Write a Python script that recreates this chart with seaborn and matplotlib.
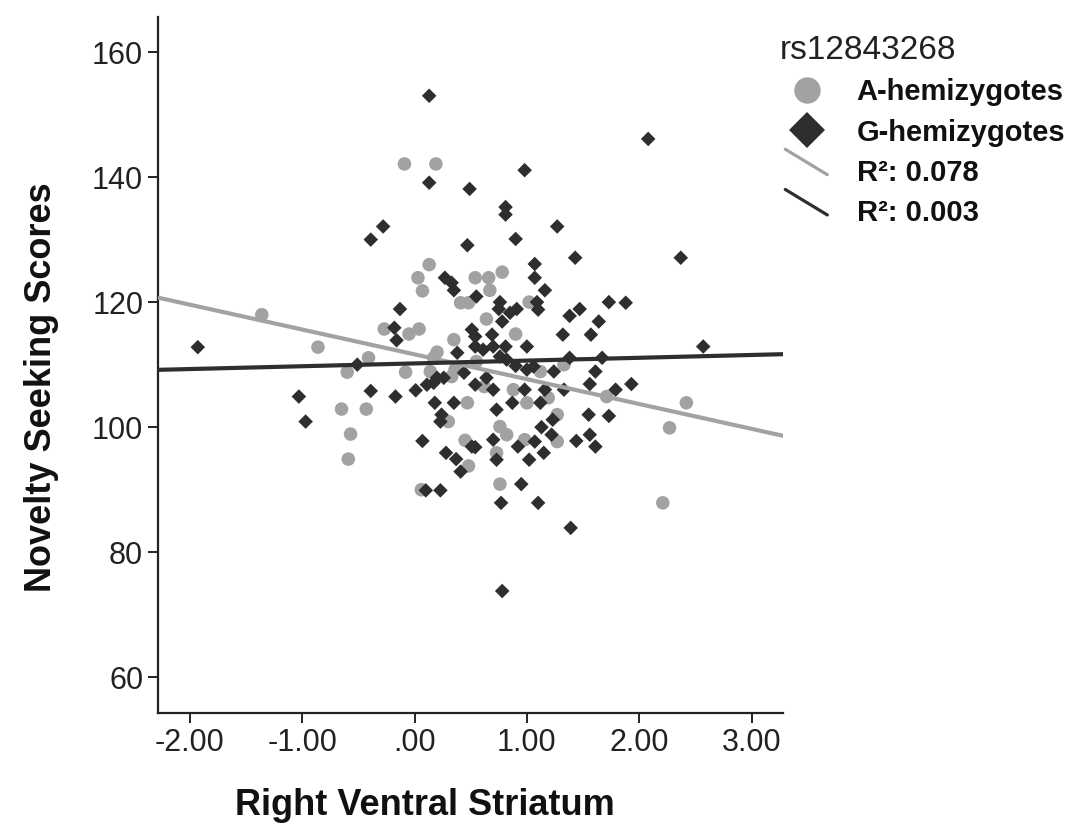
import matplotlib
matplotlib.use("Agg")
import numpy as np
import pandas as pd
import seaborn as sns
import matplotlib.pyplot as plt
from matplotlib.lines import Line2D
from matplotlib.legend_handler import HandlerBase

# ---------------- data ----------------
groups = ["A-hemizygotes", "G-hemizygotes"]

a_x = [-1.36, -0.86, -0.60, -0.41, -0.65, -0.43, -0.57, -0.59, -0.27, -0.05,
       0.04, -0.08, 0.13, 0.03, 0.07, 0.54, 0.41, 0.48, 0.35, 0.17,
       0.14, 0.33, 0.36, 0.47, 0.30, 0.45, 0.48, -0.09, 0.19, 0.66,
       0.67, 0.78, 1.02, 0.64, 0.90, 0.88, 1.12, 1.33, 1.71, 2.42,
       2.27, 2.21, 1.00, 1.19, 0.76, 0.82, 1.27, 1.27, 0.73, 0.98,
       0.06, 0.76, 0.55, 0.62, 0.20]
a_y = [118.0, 112.8, 108.8, 111.1, 102.9, 102.9, 98.9, 94.9, 115.7, 114.9,
       115.7, 108.8, 126.0, 123.9, 121.8, 123.9, 119.9, 119.9, 114.0, 111.1,
       108.9, 108.1, 109.2, 103.9, 100.9, 97.9, 93.8, 142.1, 142.1, 123.9,
       121.9, 124.8, 120.0, 117.3, 114.9, 106.0, 108.9, 110.0, 104.9, 103.9,
       99.9, 87.9, 103.9, 104.7, 100.1, 98.8, 102.0, 97.7, 95.9, 98.0,
       90.0, 90.9, 110.5, 106.5, 112.0]

g_x = [-1.93, -1.03, -0.97, -0.51, -0.39, -0.17, -0.13, -0.18, -0.16, 0.01,
       0.07, 0.10, 0.23, 0.27, 0.33, 0.35, 0.55, 0.51, 0.54, 0.54,
       0.38, 0.20, 0.26, 0.17, 0.11, 0.44, 0.54, 0.18, 0.35, 0.24,
       0.23, 0.51, 0.54, 0.28, 0.37, 0.41, 0.13, 0.13, 0.49, 0.98,
       2.08, 0.81, 0.81, -0.28, -0.39, 1.27, 0.47, 0.90, 1.43, 2.37,
       1.07, 1.07, 1.16, 0.76, 0.75, 0.85, 0.91, 1.09, 1.10, 1.73,
       1.88, 1.38, 1.47, 1.64, 1.57, 1.32, 0.78, 0.69, 1.00, 0.61,
       0.70, 0.81, 0.76, 0.82, 2.57, 1.38, 1.67, 0.64, 0.70, 1.00,
       1.06, 0.98, 1.24, 1.33, 1.16, 1.61, 1.56, 1.79, 1.93, 0.73,
       0.87, 1.12, 1.13, 1.23, 1.22, 1.55, 1.73, 1.44, 1.56, 1.61,
       0.70, 0.73, 0.92, 1.07, 1.02, 1.15, 0.95, 0.77, 1.10, 1.39,
       0.78, 0.90]
g_y = [112.8, 104.9, 100.9, 110.0, 105.8, 104.9, 118.9, 115.9, 113.9, 105.9,
       97.8, 89.9, 89.9, 123.9, 123.1, 121.9, 120.9, 115.6, 114.5, 112.9,
       111.9, 107.9, 107.9, 107.1, 106.8, 108.7, 106.8, 103.9, 103.9, 102.0,
       100.9, 96.9, 96.8, 95.9, 94.9, 92.9, 153.0, 139.1, 138.1, 141.1,
       146.1, 135.2, 134.0, 132.1, 130.0, 132.1, 129.1, 130.1, 127.1, 127.1,
       126.1, 123.9, 121.9, 120.0, 118.9, 118.3, 118.9, 120.0, 118.8, 120.0,
       119.9, 117.8, 118.9, 116.9, 114.8, 114.8, 116.9, 114.8, 112.9, 112.4,
       112.9, 112.9, 111.3, 110.8, 112.9, 111.1, 111.1, 107.9, 106.0, 109.2,
       109.7, 106.0, 108.9, 106.0, 106.0, 108.9, 106.9, 106.0, 106.9, 102.8,
       103.9, 103.9, 100.0, 101.2, 98.8, 102.0, 101.8, 97.8, 98.8, 96.9,
       98.0, 94.8, 96.9, 97.7, 94.8, 95.9, 90.9, 87.9, 87.9, 83.9,
       73.8, 109.8]

fit_intercepts = [111.65, 110.2]
fit_slopes = [-3.97, 0.45]
r2_labels = ["R\u00b2: 0.078", "R\u00b2: 0.003"]
legend_title = "rs12843268"

x_ticks = [-2, -1, 0, 1, 2, 3]
x_tick_labels = ["-2.00", "-1.00", ".00", "1.00", "2.00", "3.00"]
y_ticks = [60, 80, 100, 120, 140, 160]
x_label = "Right Ventral Striatum"
y_label = "Novelty Seeking Scores"

# ---------------- styling ----------------
sns.set_theme(style="ticks")
plt.rcParams["font.family"] = ["Liberation Sans", "DejaVu Sans"]

gray = "#a2a2a2"
dark = "#2e2e2e"
xlim = (-2.28, 3.28)
ylim = (54.3, 165.6)

df = pd.concat([
    pd.DataFrame({"x": a_x, "y": a_y, "group": groups[0]}),
    pd.DataFrame({"x": g_x, "y": g_y, "group": groups[1]}),
], ignore_index=True)

fig = plt.figure(figsize=(10.87, 8.33), dpi=100)
ax = fig.add_axes([0.1458, 0.1441, 0.5745, 0.8355])

sns.scatterplot(data=df[df.group == groups[0]], x="x", y="y", color=gray,
                marker="o", s=95, edgecolor="none", ax=ax, legend=False, zorder=2)
sns.scatterplot(data=df[df.group == groups[1]], x="x", y="y", color=dark,
                marker="D", s=55, edgecolor="none", ax=ax, legend=False, zorder=3)

line_x = np.array(xlim)
for b0, b1, col in zip(fit_intercepts, fit_slopes, [gray, dark]):
    sns.lineplot(x=line_x, y=b0 + b1 * line_x, color=col, lw=3.0, ax=ax,
                 zorder=4, legend=False)

ax.set_xlim(*xlim)
ax.set_ylim(*ylim)
ax.set_xticks(x_ticks)
ax.set_xticklabels(x_tick_labels)
ax.set_yticks(y_ticks)
ax.tick_params(axis="both", labelsize=22, length=7, width=1.4, colors="#222222",
               direction="out", pad=4)
for side in ["top", "right"]:
    ax.spines[side].set_visible(False)
for side in ["left", "bottom"]:
    ax.spines[side].set_linewidth(1.6)
    ax.spines[side].set_color("#222222")

ax.set_xlabel(x_label, fontsize=26, fontweight="bold", color="#111111")
ax.set_ylabel(y_label, fontsize=26, fontweight="bold", color="#111111")
ax.xaxis.set_label_coords(0.427, -0.108)
ax.yaxis.set_label_coords(-0.16, 0.468)


class DiagHandler(HandlerBase):
    def create_artists(self, legend, orig_handle, xdescent, ydescent, width,
                       height, fontsize, trans):
        ln = Line2D([-xdescent + 0.1 * width, -xdescent + 0.88 * width],
                    [-ydescent + 1.55 * height, -ydescent + 0.3 * height],
                    color=orig_handle.get_color(),
                    lw=orig_handle.get_linewidth(), transform=trans)
        return [ln]


h_a = Line2D([], [], ls="", marker="o", markersize=19, color=gray, markeredgewidth=0)
h_g = Line2D([], [], ls="", marker="D", markersize=18, color=dark, markeredgewidth=0)
h_la = Line2D([], [], color=gray, lw=2.3)
h_lg = Line2D([], [], color=dark, lw=2.3)

leg = ax.legend([h_a, h_g, h_la, h_lg], groups + r2_labels, title=legend_title,
                loc="upper left", bbox_to_anchor=(0.995, 0.974), frameon=False,
                prop={"weight": "bold", "size": 21}, title_fontsize=24,
                handlelength=1.85, handletextpad=0.78, labelspacing=0.42,
                borderpad=0.0, borderaxespad=0.0,
                handler_map={h_la: DiagHandler(), h_lg: DiagHandler()})
leg._legend_box.align = "left"
leg.get_title().set_color("#222222")
for t in leg.get_texts():
    t.set_color("#111111")

fig.savefig("out.png", dpi=100, facecolor="white")
